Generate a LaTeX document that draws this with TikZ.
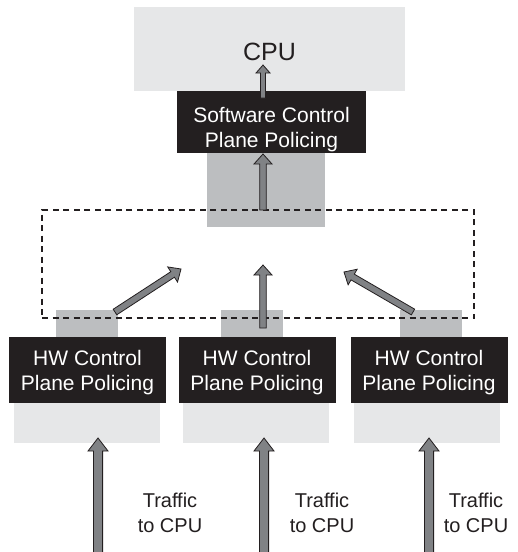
\documentclass[tikz,border=0pt]{standalone}
\usepackage{fontspec}
\setmainfont{Liberation Sans}
\usetikzlibrary{calc}
\definecolor{palegray}{HTML}{E6E7E8}
\definecolor{midgray}{HTML}{BCBEC0}
\definecolor{inkblack}{HTML}{231F20}
\definecolor{arrowgray}{HTML}{808285}
\tikzset{
  palebox/.style={fill=palegray, draw=none, inner sep=0pt},
  midbox/.style={fill=midgray, draw=none, inner sep=0pt},
  blackbox/.style={fill=inkblack, draw=none, inner sep=0pt, text=white, align=center,
    font=\fontsize{21}{25}\selectfont},
  groupbox/.style={draw=inkblack, line width=2.6pt, dash pattern=on 6pt off 4.5pt, inner sep=0pt},
  fatarrow/.style={fill=arrowgray, draw=inkblack, line width=0.8pt, line join=miter},
  trafficlabel/.style={align=center, inner sep=0pt, text=inkblack,
    font=\fontsize{20}{25}\selectfont}
}
% #1 tail, #2 tip, #3 shaft half width, #4 head half width, #5 head length
\newcommand\fatarr[5]{%
  \draw[fatarrow] ($(#1)!#3!90:(#2)$) -- ($(#2)!#5!(#1)!#3!-90:(#1)$)
    -- ($(#2)!#5!(#1)!#4!-90:(#1)$) -- (#2) -- ($(#2)!#5!(#1)!#4!90:(#1)$)
    -- ($(#2)!#5!(#1)!#3!90:(#1)$) -- ($(#1)!#3!-90:(#2)$) -- cycle;}
\begin{document}
\begin{tikzpicture}[x=1pt,y=-1pt]
\useasboundingbox[fill=white] (0,0) rectangle (518,552);
% CPU
\node[palebox, minimum width=271pt, minimum height=84pt, text=inkblack,
  font=\fontsize{25}{30}\selectfont, text height=23pt, text depth=0pt] (cpu) at (269.5,49) {CPU};
% software policing
\node[midbox, minimum width=118pt, minimum height=74pt] (swpad) at (266,190) {};
\node[blackbox, minimum width=189pt, minimum height=62pt, text height=55pt, text depth=5pt]
  (sw) at (271.5,122) {Software Control\\Plane Policing};
% hardware policing
\foreach \n/\px/\bx/\lx in {1/87/87.5/86.5, 2/252/257/256, 3/431/429/427}{
  \node[midbox, minimum width=62pt, minimum height=27pt] (hwtop\n) at (\px,323.5) {};
  \node[palebox, minimum width=146pt, minimum height=40pt] (hwbot\n) at (\lx,423) {};
  \node[blackbox, minimum width=157pt, minimum height=66pt, text height=45pt, text depth=5pt]
    (hw\n) at (\bx,370) {HW Control\\Plane Policing};
}
% dashed group
\node[groupbox, minimum width=432pt, minimum height=108pt] (grp) at (258,264) {};
% labels
\node[trafficlabel, anchor=base] (t1) at (170,532) {Traffic\\to CPU};
\node[trafficlabel, anchor=base] (t2) at (322,532) {Traffic\\to CPU};
\node[trafficlabel, anchor=base] (t3) at (476,532) {Traffic\\to CPU};
% arrow end points
\coordinate (cpuA) at (263,98);  \coordinate (cpuB) at (263,65);
\coordinate (swA) at (263,210);  \coordinate (swB) at (263,154);
\coordinate (lA) at (115,312);   \coordinate (lB) at (181,269);
\coordinate (mA) at (263,328);   \coordinate (mB) at (263,265);
\coordinate (rA) at (413,312);   \coordinate (rB) at (344,272);
\coordinate (b1A) at (98,556);   \coordinate (b1B) at (98,438);
\coordinate (b2A) at (264,556);  \coordinate (b2B) at (264,438);
\coordinate (b3A) at (429,556);  \coordinate (b3B) at (429,438);
\fatarr{cpuA}{cpuB}{2.5pt}{7pt}{8pt}
\fatarr{swA}{swB}{3.3pt}{9pt}{10pt}
\fatarr{lA}{lB}{3.3pt}{9pt}{10pt}
\fatarr{mA}{mB}{3.3pt}{9pt}{10pt}
\fatarr{rA}{rB}{3.3pt}{9pt}{10pt}
\fatarr{b1A}{b1B}{4.6pt}{10pt}{13pt}
\fatarr{b2A}{b2B}{4.6pt}{10pt}{13pt}
\fatarr{b3A}{b3B}{4.6pt}{10pt}{13pt}
\end{tikzpicture}
\end{document}
